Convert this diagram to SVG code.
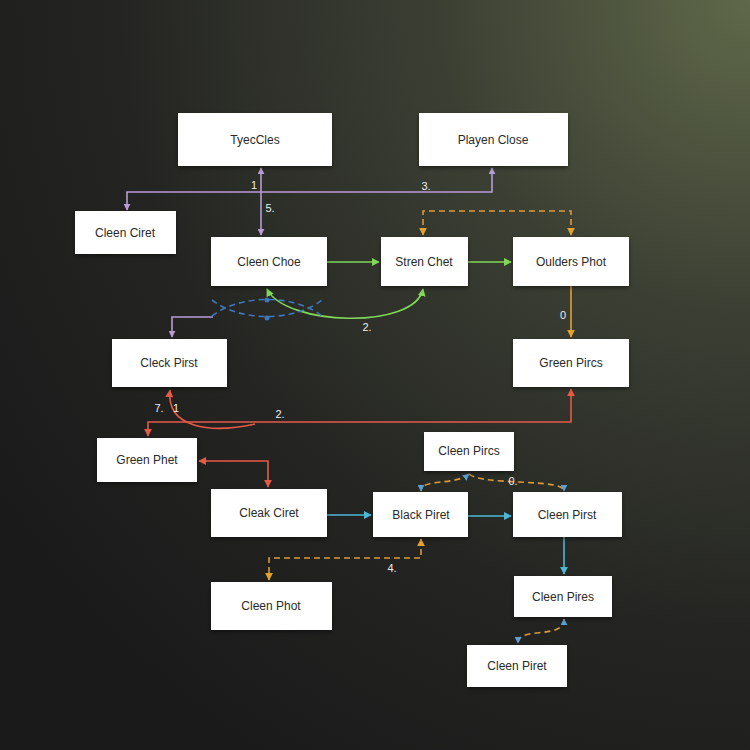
<svg xmlns="http://www.w3.org/2000/svg" width="750" height="750" viewBox="0 0 750 750">
<defs>
<radialGradient id="bg" cx="750" cy="0" r="900" gradientUnits="userSpaceOnUse">
<stop offset="0" stop-color="#5f6849"/>
<stop offset="0.35" stop-color="#3b3f33"/>
<stop offset="0.7" stop-color="#242522"/>
<stop offset="1" stop-color="#1a1a1a"/>
</radialGradient>
<filter id="sh" x="-10%" y="-10%" width="130%" height="140%">
<feDropShadow dx="0" dy="2" stdDeviation="2" flood-color="#000" flood-opacity="0.45"/>
</filter>
<marker id="mP" viewBox="0 0 10 10" refX="9" refY="5" markerWidth="7" markerHeight="7" markerUnits="userSpaceOnUse" orient="auto-start-reverse"><path d="M0,0 L10,5 L0,10 z" fill="#b89cd6"/></marker>
<marker id="mG" viewBox="0 0 10 10" refX="9" refY="5" markerWidth="8" markerHeight="8" markerUnits="userSpaceOnUse" orient="auto-start-reverse"><path d="M0,0 L10,5 L0,10 z" fill="#7fd957"/></marker>
<marker id="mO" viewBox="0 0 10 10" refX="9" refY="5" markerWidth="8" markerHeight="8" markerUnits="userSpaceOnUse" orient="auto-start-reverse"><path d="M0,0 L10,5 L0,10 z" fill="#e0a232"/></marker>
<marker id="mR" viewBox="0 0 10 10" refX="9" refY="5" markerWidth="8" markerHeight="8" markerUnits="userSpaceOnUse" orient="auto-start-reverse"><path d="M0,0 L10,5 L0,10 z" fill="#e55a48"/></marker>
<marker id="mC" viewBox="0 0 10 10" refX="9" refY="5" markerWidth="8" markerHeight="8" markerUnits="userSpaceOnUse" orient="auto-start-reverse"><path d="M0,0 L10,5 L0,10 z" fill="#4cb8d6"/></marker>
<marker id="mB" viewBox="0 0 10 10" refX="9" refY="5" markerWidth="7" markerHeight="7" markerUnits="userSpaceOnUse" orient="auto-start-reverse"><path d="M0,0 L10,5 L0,10 z" fill="#5aa0d0"/></marker>
</defs>
<style>
.n rect{fill:#ffffff;filter:url(#sh)}
.n text{font-family:"Liberation Sans",Arial,sans-serif;font-size:12px;fill:#2a2a2a;text-anchor:middle;dominant-baseline:central}
.c path,.c line{fill:none;stroke-width:1.6}
.p{stroke:#b89cd6}
.g{stroke:#7fd957}
.o{stroke:#e0a232}
.od{stroke:#d89a3c;stroke-dasharray:6 4}
.r{stroke:#e55a48}
.cy{stroke:#4cb8d6}
.bd{stroke:#3f78b8;stroke-dasharray:6 4}
.lb{font-family:"Liberation Sans",Arial,sans-serif;font-size:11px;fill:#eeeeee;text-anchor:middle}
</style>
<rect width="750" height="750" fill="url(#bg)"/>

<g id="connectors" class="c">
<path class="p" d="M261,168 V235" marker-start="url(#mP)" marker-end="url(#mP)"/>
<path class="p" d="M127,210 V192 H492 V168" marker-start="url(#mP)" marker-end="url(#mP)"/>
<path class="p" d="M213,317 H172 V337" marker-end="url(#mP)"/>
<path class="od" d="M423,235 V211 H571 V235" marker-start="url(#mO)" marker-end="url(#mO)"/>
<path class="g" d="M327,262 H379" marker-end="url(#mG)"/>
<path class="g" d="M468,262 H511" marker-end="url(#mG)"/>
<path class="g" d="M267,289 C285,326 415,330 423,289" marker-start="url(#mG)" marker-end="url(#mG)"/>
<path class="bd" d="M212,316 C240,294 294,294 322,316"/>
<path class="bd" d="M212,300 C240,322 294,322 322,300"/>
<circle cx="267" cy="300" r="2.5" fill="#3f78b8"/>
<circle cx="267" cy="318" r="2.5" fill="#3f78b8"/>
<path class="o" d="M571,286 V337" marker-end="url(#mO)"/>
<path class="r" d="M148,436 V422 H571 V389" marker-start="url(#mR)" marker-end="url(#mR)"/>
<path class="r" d="M255,424 C210,434 166,428 170,390" marker-end="url(#mR)"/>
<path class="r" d="M199,461 H268 V487" marker-start="url(#mR)" marker-end="url(#mR)"/>
<path class="cy" d="M327,515 H371" marker-end="url(#mC)"/>
<path class="cy" d="M468,516 H511" marker-end="url(#mC)"/>
<path class="cy" d="M564,537 V574" marker-end="url(#mC)"/>
<path class="od" d="M421,539 V558 H269 V580" marker-start="url(#mO)" marker-end="url(#mO)"/>
<path class="od" d="M469,474 C455,486 421,478 421,491" marker-start="url(#mB)" marker-end="url(#mB)"/>
<path class="od" d="M469,474 C482,486 564,478 564,491" marker-end="url(#mB)"/>
<path class="od" d="M564,619 C564,640 518,626 518,643" marker-start="url(#mB)" marker-end="url(#mB)"/>
<text class="lb" x="254" y="189">1</text>
<text class="lb" x="270" y="212">5.</text>
<text class="lb" x="426" y="190">3.</text>
<text class="lb" x="367" y="331">2.</text>
<text class="lb" x="563" y="319">0</text>
<text class="lb" x="280" y="418">2.</text>
<text class="lb" x="159" y="412">7.</text>
<text class="lb" x="176" y="412">1</text>
<text class="lb" x="392" y="572">4.</text>
<text class="lb" x="513" y="485">0.</text>
</g>

<g id="n1" class="n"><rect x="178" y="113" width="154" height="53"/><text x="255" y="140">TyecCles</text></g>
<g id="n2" class="n"><rect x="419" y="113" width="149" height="53"/><text x="493" y="140">Playen Close</text></g>
<g id="n3" class="n"><rect x="75" y="211" width="101" height="43"/><text x="125" y="233">Cleen Ciret</text></g>
<g id="n4" class="n"><rect x="211" y="237" width="116" height="49"/><text x="269" y="262">Cleen Choe</text></g>
<g id="n5" class="n"><rect x="381" y="237" width="87" height="49"/><text x="424" y="262">Stren Chet</text></g>
<g id="n6" class="n"><rect x="513" y="237" width="116" height="49"/><text x="571" y="262">Oulders Phot</text></g>
<g id="n7" class="n"><rect x="112" y="339" width="115" height="48"/><text x="169" y="363">Cleck Pirst</text></g>
<g id="n8" class="n"><rect x="513" y="339" width="116" height="48"/><text x="571" y="363">Green Pircs</text></g>
<g id="n9" class="n"><rect x="97" y="438" width="100" height="44"/><text x="147" y="460">Green Phet</text></g>
<g id="n10" class="n"><rect x="424" y="432" width="90" height="39"/><text x="469" y="451">Cleen Pircs</text></g>
<g id="n11" class="n"><rect x="211" y="489" width="116" height="48"/><text x="269" y="513">Cleak Ciret</text></g>
<g id="n12" class="n"><rect x="373" y="492" width="95" height="45"/><text x="421" y="515">Black Piret</text></g>
<g id="n13" class="n"><rect x="513" y="492" width="109" height="45"/><text x="567" y="515">Cleen Pirst</text></g>
<g id="n14" class="n"><rect x="514" y="576" width="98" height="41"/><text x="563" y="597">Cleen Pires</text></g>
<g id="n15" class="n"><rect x="211" y="582" width="121" height="48"/><text x="271" y="606">Cleen Phot</text></g>
<g id="n16" class="n"><rect x="467" y="645" width="100" height="42"/><text x="517" y="666">Cleen Piret</text></g>
</svg>
